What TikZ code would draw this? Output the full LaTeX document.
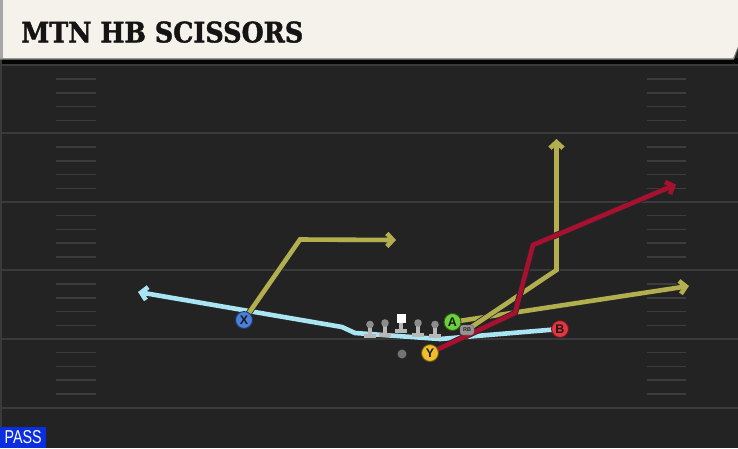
\documentclass[tikz,border=0pt]{standalone}
\usepackage{fontspec}
\usepackage{graphicx}
\setmainfont{Liberation Sans}
\newfontfamily\titlefont[BoldFeatures={FakeBold=1.5}]{DejaVu Serif}
\usetikzlibrary{arrows.meta}
\definecolor{fieldbg}{HTML}{232323}
\definecolor{fieldline}{HTML}{3A3A3A}
\definecolor{hashcol}{HTML}{3C3C3C}
\definecolor{cream}{HTML}{F4F2EB}
\definecolor{olivecol}{HTML}{B3AF4F}
\definecolor{redcol}{HTML}{A8102F}
\definecolor{skycol}{HTML}{A9E5F3}
\definecolor{xblue}{HTML}{4B7FDD}
\definecolor{agreen}{HTML}{6CCF3C}
\definecolor{ygold}{HTML}{F0BE2A}
\definecolor{bred}{HTML}{E3363F}
\definecolor{passblue}{HTML}{0B2FE0}
\definecolor{linebody}{HTML}{B8B8B8}
\definecolor{linehead}{HTML}{8C8C8C}
\pgfdeclarelayer{bg}
\pgfdeclarelayer{rt}
\pgfsetlayers{bg,rt,main}
\tikzset{
  yardline/.style={draw=fieldline, line width=2pt},
  hashline/.style={draw=hashcol, line width=1.8pt},
  route/.style={line width=4.6pt, line join=miter, preaction={draw=black!85, line width=6.2pt}},
  tipped/.style={-{Straight Barb[length=6pt,width=13pt]}},
  player/.style={circle, fill=#1, draw=#1!45!black, line width=0.9pt, minimum size=17pt, inner sep=0pt,
    font=\bfseries\fontsize{12.5}{12.5}\selectfont, text=black!90},
  lineman/.pic={
    \fill[linebody] (-6,-3.8) rectangle (6,0);
    \fill[linebody] (-2.2,-12) rectangle (2.2,-3);
    \fill[linehead] (0,-13.5) circle (3.8);
  },
  centerman/.pic={
    \fill[linebody] (-6,-3.8) rectangle (6,0);
    \fill[linebody] (-2.2,-11) rectangle (2.2,-3);
    \fill[white] (-4.5,-19.5) rectangle (4.5,-10.5);
  }
}
\begin{document}
\begin{tikzpicture}[x=1pt,y=-1pt]
\useasboundingbox (0,0) rectangle (738,448);
\begin{pgfonlayer}{bg}
  \fill[fieldbg] (0,0) rectangle (738,448);
  \fill[black!90!fieldbg] (0,58) rectangle (738,64);
  \fill[fieldline] (0,58) rectangle (2,448);
  \foreach \yy in {65,133,201.5,270,338.5,408}{
    \draw[yardline] (0,\yy) -- (738,\yy);
  }
  \foreach \yy in {65,133,201.5,270,338.5}{
    \foreach \dd in {14,28,41.5,55.5}{
      \draw[hashline] (56,\yy+\dd) -- (96,\yy+\dd);
      \draw[hashline] (647,\yy+\dd) -- (686,\yy+\dd);
    }
  }
  % title bar
  \fill[black!45] (0,0) -- (738,0) -- (738,48) -- (734,59.5) -- (0,59.5) -- cycle;
  \fill[cream] (0,0) -- (738,0) -- (738,46) -- (733,58) -- (0,58) -- cycle;
  \fill[black!35] (0,0) rectangle (3,58);
\end{pgfonlayer}

\node[anchor=south west, inner sep=0pt, text=black!92] (title) at (21,43)
  {\resizebox{282pt}{21pt}{\titlefont\bfseries MTN HB SCISSORS}};

\node[fill=passblue, text=white, anchor=south west, inner sep=0pt,
  minimum width=46pt, minimum height=20.5pt] (pass) at (0,448)
  {\resizebox{37pt}{13pt}{PASS}};

% offensive line
\pic at (370,338) {lineman};
\pic at (385,336.5) {lineman};
\pic at (401,333) {centerman};
\pic at (418,336.5) {lineman};
\pic at (435,338) {lineman};
\node[circle, fill=black!55, minimum size=9pt, inner sep=0pt] (qb) at (402,354) {};

% players
\node[player=xblue] (X) at (244,320) {X};
\node[player=agreen] (A) at (452.5,322) {A};
\node[player=ygold] (Y) at (430,353) {Y};
\node[player=bred] (B) at (560,329) {B};
\node[fill=black!42, draw=black!60, line width=0.4pt, rounded corners=2.8pt,
  minimum width=14pt, minimum height=10pt, inner sep=0pt,
  font=\bfseries\fontsize{5.5}{5.5}\selectfont, text=black!85] (RB) at (467,330) {RB};

% route points
\coordinate (b1) at (440,339);
\coordinate (b2) at (355,333);
\coordinate (b3) at (342,327);
\coordinate (bend) at (138,292);
\coordinate (x1) at (300,239.5);
\coordinate (xend) at (396,240);
\coordinate (aend) at (689,286);
\coordinate (r1) at (556.5,270);
\coordinate (rend) at (556.5,139);
\coordinate (y1) at (515,313);
\coordinate (y2) at (533,245);
\coordinate (yend) at (676,184.5);

\begin{pgfonlayer}{rt}
  \draw[route, tipped, draw=skycol] (B.center) -- (b1) -- (b2) -- (b3) -- (bend);
  \draw[route, tipped, draw=olivecol] (X.center) -- (x1) -- (xend);
  \draw[route, tipped, draw=olivecol] (A.center) -- (aend);
  \draw[route, tipped, draw=olivecol] (RB.center) -- (r1) -- (rend);
  \draw[route, tipped, draw=redcol] (Y.center) -- (y1) -- (y2) -- (yend);
\end{pgfonlayer}
\end{tikzpicture}
\end{document}
